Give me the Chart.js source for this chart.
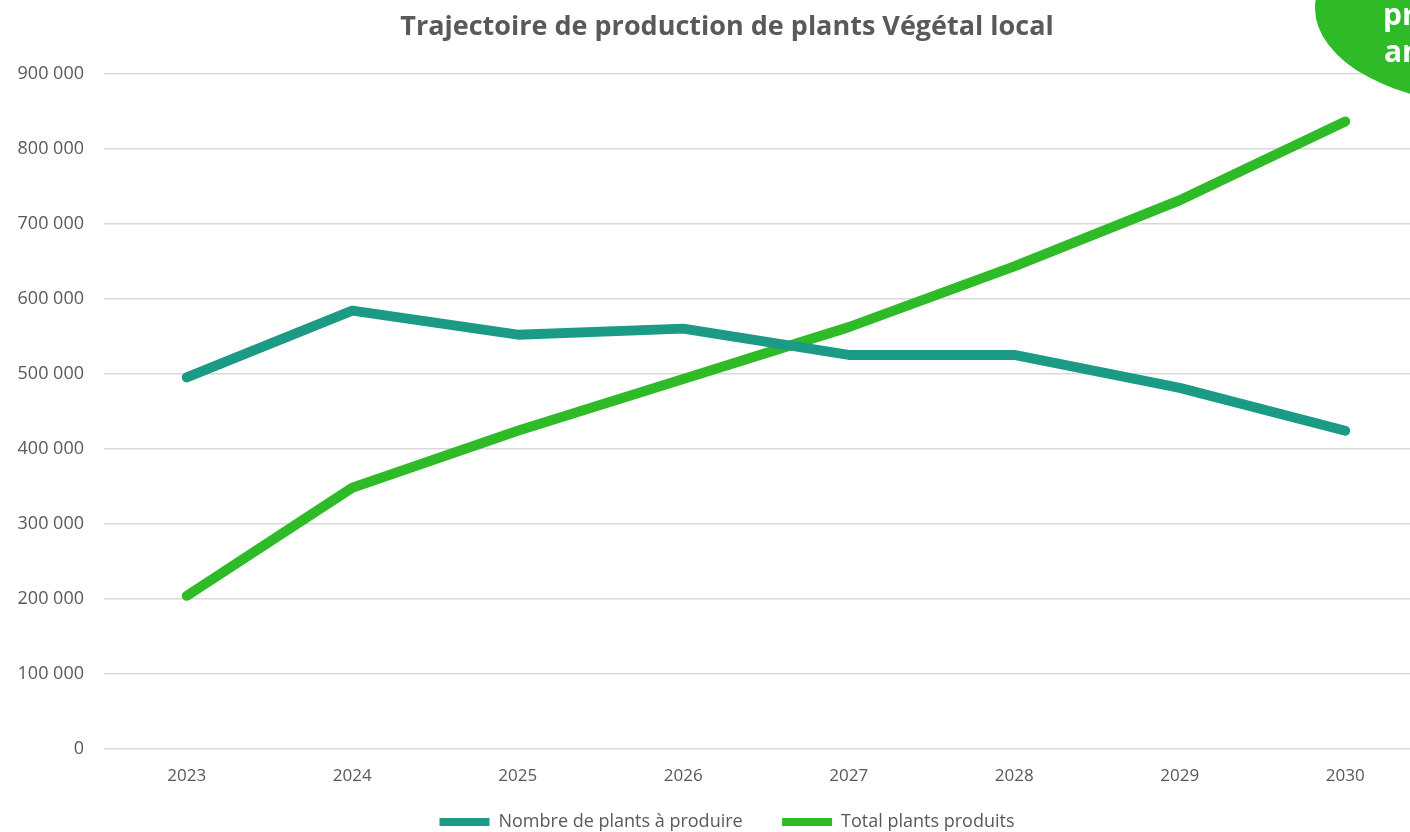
<!DOCTYPE html>
<html lang="fr">
<head>
<meta charset="utf-8">
<title>Trajectoire de production de plants Végétal local</title>
<script src="https://cdn.jsdelivr.net/npm/chart.js@4.4.1/dist/chart.umd.min.js"></script>
<style>
  html, body { margin: 0; padding: 0; background: #fff; overflow: hidden; }
  #wrap { position: relative; width: 1428px; height: 832px; }
</style>
</head>
<body>
<div id="wrap"><canvas id="graphique"></canvas></div>
<script>
const annees = ['2023', '2024', '2025', '2026', '2027', '2028', '2029', '2030'];
const plantsAProduire = [495000, 584000, 552000, 560000, 525000, 525000, 481000, 424000];
const plantsProduits = [204000, 348000, 424000, 493000, 562000, 643000, 731000, 836000];
const titre = 'Trajectoire de production de plants Végétal local';
const bulle = ['production', 'annuelle'];

const gris = '#595959';
const police = "'Open Sans', 'Noto Sans', sans-serif";

function formatFr(v) {
    return String(v).replace(/\B(?=(\d{3})+(?!\d))/g, ' ');
}

// l'axe Y récupère la marge de gauche pour que ses étiquettes ne soient pas coupées
const margeAxe = {
    id: 'margeAxe',
    afterLayout(chart) {
        const y = chart.scales.y;
        y.width += y.left;
        y.left = 0;
    }
};

// pastille verte coupée en haut à droite
const pastille = {
    id: 'pastille',
    afterDraw(chart) {
        const ctx = chart.ctx;
        ctx.save();
        ctx.fillStyle = '#2fba27';
        ctx.beginPath();
        ctx.ellipse(1494, 8, 179, 97, 0, 0, Math.PI * 2);
        ctx.fill();
        ctx.fillStyle = '#ffffff';
        ctx.font = "bold 30px " + police;
        ctx.textBaseline = 'alphabetic';
        ctx.textAlign = 'left';
        ctx.fillText(bulle[0], 1383, 25);
        ctx.fillText(bulle[1], 1384, 62);
        ctx.restore();
    }
};

const config = {
    type: 'line',
    data: {
        labels: annees,
        datasets: [
            {
                label: 'Nombre de plants à produire',
                data: plantsAProduire,
                borderColor: '#1b9b86',
                backgroundColor: '#1b9b86',
                borderWidth: 10,
                borderCapStyle: 'round',
                borderJoinStyle: 'round',
                pointRadius: 0,
                tension: 0
            },
            {
                label: 'Total plants produits',
                data: plantsProduits,
                borderColor: '#2fba27',
                backgroundColor: '#2fba27',
                borderWidth: 10,
                borderCapStyle: 'round',
                borderJoinStyle: 'round',
                pointRadius: 0,
                tension: 0
            }
        ]
    },
    options: {
        responsive: true,
        maintainAspectRatio: false,
        animation: false,
        layout: { padding: { left: 26, right: 0, top: 0, bottom: -9 } },
        plugins: {
            title: {
                display: true,
                text: titre,
                color: gris,
                font: { family: police, size: 27, weight: 'bold' },
                padding: { top: 11, bottom: 30 }
            },
            legend: {
                position: 'bottom',
                labels: {
                    color: gris,
                    font: { family: police, size: 18 },
                    usePointStyle: true,
                    pointStyle: 'line',
                    pointStyleWidth: 50,
                    boxHeight: 17,
                    padding: 2,
                    generateLabels(chart) {
                        const items = Chart.defaults.plugins.legend.labels.generateLabels(chart);
                        items.forEach((it, i) => {
                            it.lineWidth = 8;
                            if (i < items.length - 1) it.text = it.text + '\u00a0'.repeat(8);
                        });
                        return items;
                    }
                }
            },
            tooltip: { enabled: false }
        },
        scales: {
            x: {
                offset: true,
                grid: { display: false, drawTicks: false },
                border: { display: false },
                ticks: {
                    color: gris,
                    font: { family: police, size: 17 },
                    padding: 17
                },
                afterFit(scale) { scale.height = 62; }
            },
            y: {
                min: 0,
                max: 900000,
                grid: { color: '#d9d9d9', lineWidth: 1.5, drawTicks: false },
                border: { display: false },
                ticks: {
                    stepSize: 100000,
                    color: gris,
                    font: { family: police, size: 18 },
                    padding: 20,
                    callback: (v) => formatFr(v)
                },
                afterFit(scale) { scale.width = 78; }
            }
        }
    },
    plugins: [margeAxe, pastille]
};

const graphique = new Chart(document.getElementById('graphique'), config);
</script>
</body>
</html>
